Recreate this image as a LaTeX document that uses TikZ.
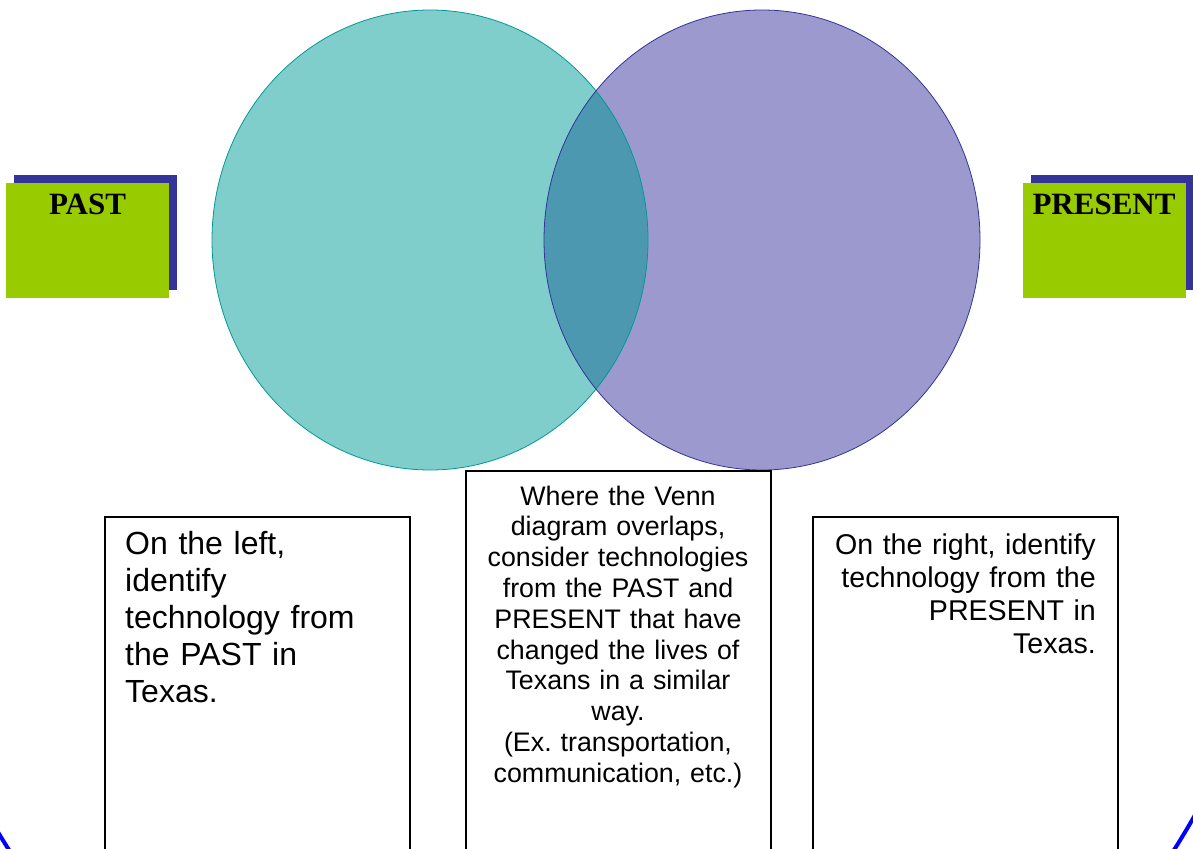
\documentclass[tikz,border=0pt]{standalone}
\usepackage{fontspec}
\setmainfont{Liberation Sans}
\newfontfamily\tagfont{Liberation Serif}
\usepackage{tikz}
\usetikzlibrary{shadows}
\frenchspacing
\definecolor{taggreen}{RGB}{153,204,0}
\definecolor{tagblue}{RGB}{51,51,153}
\definecolor{pastfill}{RGB}{128,206,203}
\definecolor{pastline}{RGB}{0,153,153}
\definecolor{nowfill}{RGB}{155,153,205}
\definecolor{nowline}{RGB}{51,51,153}
\definecolor{bothfill}{RGB}{77,152,177}
\definecolor{rimblue}{RGB}{0,0,255}
\tikzset{
  tagbox/.style={fill=taggreen, minimum width=163pt, minimum height=115pt,
                 inner sep=0pt,
                 general shadow={fill=tagblue, shadow xshift=8pt, shadow yshift=8pt}},
  tagtext/.style={font=\tagfont\bfseries\fontsize{31pt}{36pt}\selectfont,
                  inner sep=0pt, anchor=base},
  notebox/.style={draw=black, line width=1.5pt, minimum width=305pt,
                  minimum height=420pt, anchor=north west, inner sep=0pt},
  note/.style={inner sep=0pt, text width=275pt},
  rim/.style={draw=rimblue, line width=4pt}
}

\begin{document}
\begin{tikzpicture}[x=1pt, y=-1pt]
  \clip (0,0) rectangle (1193,848);
  % outer rim
  \draw[rim] (591.5,380) ellipse [x radius=716, y radius=808];
  % the two sets
  \fill[pastfill] (430,240) ellipse [x radius=218, y radius=230];
  \fill[nowfill] (762,240) ellipse [x radius=218, y radius=230];
  \begin{scope}
    \clip (430,240) ellipse [x radius=218, y radius=230];
    \fill[bothfill] (762,240) ellipse [x radius=218, y radius=230];
  \end{scope}
  \draw[pastline, line width=0.8pt] (430,240) ellipse [x radius=218, y radius=230];
  \draw[nowline, line width=0.8pt] (762,240) ellipse [x radius=218, y radius=230];
  % tags
  \node[tagbox] (pastbox) at (87.5,240.5) {};
  \node[tagtext] (pasttag) at (87.5,214) {PAST};
  \node[tagbox] (nowbox) at (1104.5,240.5) {};
  \node[tagtext] (nowtag) at (1104,214) {PRESENT};
  % notes
  \node[notebox] (pastnote) at (104,516) {};
  \node[notebox] (bothnote) at (465,470) {};
  \node[notebox] (nownote) at (812,516) {};
  \node[note, anchor=base west, align=left,
        font=\fontsize{32pt}{37.2pt}\selectfont] (pasttext) at (125,554)
    {On the left,\\identify\\technology from\\the PAST in\\Texas.};
  \node[note, anchor=base, align=center, text width=300pt,
        font=\fontsize{26.8pt}{30.8pt}\selectfont] (bothtext) at (618,505)
    {Where the Venn\\diagram overlaps,\\consider technologies\\from the PAST and\\PRESENT that have\\changed the lives of\\Texans in a similar\\way.\\(Ex. transportation,\\communication, etc.)};
  \node[note, anchor=base east, align=right,
        font=\fontsize{28.6pt}{33pt}\selectfont] (nowtext) at (1096,554)
    {On the right, identify\\technology from the\\PRESENT in\\Texas.};
\end{tikzpicture}
\end{document}
